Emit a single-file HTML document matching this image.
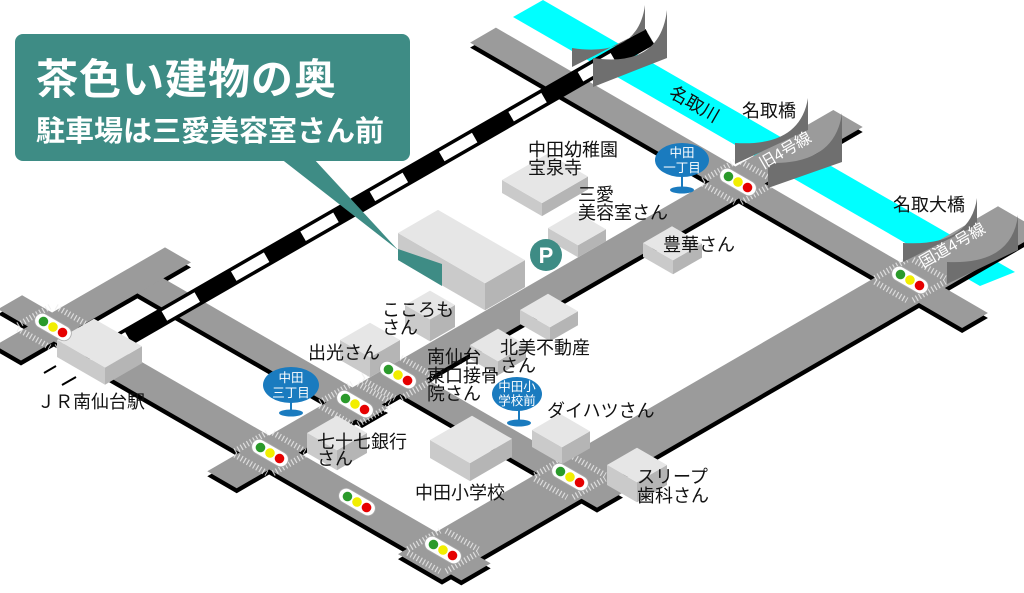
<!DOCTYPE html>
<html><head><meta charset="utf-8">
<style>
html,body{margin:0;padding:0;background:#fff;}
svg{display:block;}
.lb{font-family:"Liberation Sans","Noto Sans CJK JP",sans-serif;font-size:18px;fill:#111;}
.bs{font-family:"Liberation Sans","Noto Sans CJK JP",sans-serif;font-size:12.5px;fill:#fff;}
.dk{font-family:"Liberation Sans","Noto Sans CJK JP",sans-serif;font-size:16px;fill:#fff;}
</style></head>
<body>
<svg id="map" width="1024" height="593" viewBox="0 0 1024 593" xmlns="http://www.w3.org/2000/svg">
<polygon points="513,17 543,0 1015,272 980,286" fill="#00ffff"/>
<g id="shadows"></g>
<g id="roads"></g>
<g id="cross"></g>
<g id="rail"></g>
<g id="walls"></g>
<g id="boxes"></g>
<g id="lights"></g>
<!-- callout -->
<polygon points="280,158 313,158 398,250" fill="#3e8c85"/>
<rect x="15" y="34" width="395" height="127" rx="8" fill="#3e8c85"/>
<text x="36" y="94" font-family="'Liberation Sans','Noto Sans CJK JP',sans-serif" font-size="42" font-weight="bold" fill="#fff" letter-spacing="1">茶色い建物の奥</text>
<text x="36" y="141" font-family="'Liberation Sans','Noto Sans CJK JP',sans-serif" font-size="29" font-weight="bold" fill="#fff">駐車場は三愛美容室さん前</text>
<!-- P -->
<circle cx="546" cy="255" r="16" fill="#3e8c85"/>
<text x="546" y="263" text-anchor="middle" font-family="'Liberation Sans',sans-serif" font-size="22" font-weight="bold" fill="#fff">P</text>
<!-- bus stops -->
<g>
<line x1="682" y1="175" x2="682" y2="190" stroke="#1a7bbf" stroke-width="2"/>
<ellipse cx="682" cy="190" rx="12" ry="3.5" fill="#1a7bbf"/>
<ellipse cx="682" cy="160" rx="27" ry="17" fill="#1a7bbf"/>
<text class="bs" x="682" y="157" text-anchor="middle">中田</text>
<text class="bs" x="682" y="172" text-anchor="middle">一丁目</text>
<line x1="291" y1="400" x2="291" y2="413" stroke="#1a7bbf" stroke-width="2"/>
<ellipse cx="291" cy="413" rx="12" ry="3.5" fill="#1a7bbf"/>
<ellipse cx="291" cy="385" rx="28" ry="18" fill="#1a7bbf"/>
<text class="bs" x="291" y="382" text-anchor="middle">中田</text>
<text class="bs" x="291" y="397" text-anchor="middle">三丁目</text>
<line x1="519" y1="408" x2="519" y2="423" stroke="#1a7bbf" stroke-width="2"/>
<ellipse cx="519" cy="423" rx="12" ry="3.5" fill="#1a7bbf"/>
<ellipse cx="517" cy="394" rx="25" ry="17" fill="#1a7bbf"/>
<text class="bs" x="517" y="391" text-anchor="middle">中田小</text>
<text class="bs" x="517" y="405" text-anchor="middle">学校前</text>
</g>
<!-- labels -->
<g class="lb">
<text class="lb" x="528" y="156">中田幼稚園</text>
<text class="lb" x="528" y="174">宝泉寺</text>
<text class="lb" x="578" y="201">三愛</text>
<text class="lb" x="578" y="219">美容室さん</text>
<text class="lb" x="663" y="251">豊華さん</text>
<text class="lb" x="742" y="117">名取橋</text>
<text class="lb" x="893" y="211">名取大橋</text>
<text class="lb" x="0" y="0" transform="translate(668,96) rotate(30)">名取川</text>
<text class="lb" x="37" y="408">ＪＲ南仙台駅</text>
<text class="lb" x="382" y="316">こころも</text>
<text class="lb" x="382" y="334">さん</text>
<text class="lb" x="308" y="359">出光さん</text>
<text class="lb" x="427" y="363">南仙台</text>
<text class="lb" x="427" y="382">東口接骨</text>
<text class="lb" x="427" y="400">院さん</text>
<text class="lb" x="500" y="354">北美不動産</text>
<text class="lb" x="500" y="372">さん</text>
<text class="lb" x="547" y="417">ダイハツさん</text>
<text class="lb" x="317" y="448">七十七銀行</text>
<text class="lb" x="317" y="465">さん</text>
<text class="lb" x="415" y="499">中田小学校</text>
<text class="lb" x="637" y="483">スリープ</text>
<text class="lb" x="637" y="502">歯科さん</text>
</g>
<text class="dk" x="0" y="0" text-anchor="middle" transform="translate(788,155) rotate(-30)">旧4号線</text>
<text class="dk" x="0" y="0" text-anchor="middle" transform="translate(955,250) rotate(-30)">国道4号線</text>
</svg>
<script>
var NS="http://www.w3.org/2000/svg";
function el(t,a,p){var e=document.createElementNS(NS,t);for(var k in a)e.setAttribute(k,a[k]);document.getElementById(p).appendChild(e);return e;}
function pts(a){return a.map(function(p){return p[0].toFixed(1)+","+p[1].toFixed(1)}).join(" ");}
function roadPts(xs,xe,x0,y0,s,w,dy){
  var h=w/2;function c(x){return [x,y0+s*(x-x0)+dy];}
  var P1=c(xs),P2=c(xe);
  function top(P){return [P[0]+h/(2*s),P[1]-h/2];}
  function bot(P){return [P[0]-h/(2*s),P[1]+h/2];}
  return [top(P1),top(P2),bot(P2),bot(P1)];
}
var roads=[
 [483,975,500,45,0.58,30],      // A
 [420,1020,600,462.5,-0.58,51], // B
 [222,848,738,182,-0.577,34],   // C
 [385,610,570,477,0.577,30],    // D
 [140,375,355,404,0.577,30],    // E
 [100,476,270,453,0.577,34],    // F
 [8,178,53,327,-0.577,30],      // G
 [10,95,53,327,0.577,28]        // stub
];
roads.forEach(function(r){el("polygon",{points:pts(roadPts(r[0],r[1],r[2],r[3],r[4],r[5],5)),fill:"#000"},"shadows");});
roads.forEach(function(r){el("polygon",{points:pts(roadPts(r[0],r[1],r[2],r[3],r[4],r[5],0)),fill:"#9b9b9b"},"roads");});
// crosswalks
var T=[[738,182],[910,280],[398,378],[355,404],[270,453],[443,551],[570,477],[53,327]];
T.forEach(function(t){
  var off=22,len=16;
  [[1,0.577],[1,-0.577]].forEach(function(d,i){
    var o=i==0?[1,-0.577]:[1,0.577];
    [-1,1].forEach(function(sg){
      var cx=t[0]+sg*o[0]*off*0.87,cy=t[1]+sg*o[1]*off*0.87;
      el("line",{x1:cx-d[0]*len,y1:cy-d[1]*len,x2:cx+d[0]*len,y2:cy+d[1]*len,stroke:"#eee","stroke-width":6,"stroke-dasharray":"1.2 2.4",opacity:0.8},"cross");
    });
  });
});
// rail
function ry(x){return 307-0.575*(x-180);}
el("line",{x1:95,y1:ry(95),x2:650,y2:ry(650),stroke:"#000","stroke-width":18},"rail");
el("line",{x1:95,y1:ry(95),x2:650,y2:ry(650),stroke:"#fff","stroke-width":11,"stroke-dasharray":"38 42"},"rail");
el("line",{x1:44,y1:373,x2:56,y2:366,stroke:"#000","stroke-width":2},"rail");
el("line",{x1:62,y1:385,x2:76,y2:377,stroke:"#000","stroke-width":2},"rail");
// bridge walls
function wall(x1,y1,yb1,x2,y2,yb2,cx,cy){
  el("path",{d:"M"+x1+","+y1+" Q"+cx+","+cy+" "+x2+","+y2+" L"+x2+","+yb2+" L"+x1+","+yb1+" Z",fill:"#6f6f6f"},"walls");
}
wall(572,48,67,645,5,30,638,58);
wall(593,58,87,667,10,58,660,68);
wall(735,143,164,808,98,130,800,147);
wall(768,163,188,842,113,162,835,165);
wall(903,243,262,977,198,225,970,247);
wall(947,262,284,1018,215,250,1012,265);
// boxes
function box(lx,ly,L,R,H){
  var Lt=[lx,ly],Ft=[lx+L,ly+0.577*L],Rt=[lx+L+R,ly+0.577*L-0.577*R],Bt=[lx+R,ly-0.577*R];
  function dn(p){return [p[0],p[1]+H];}
  el("polygon",{points:pts([Lt,Ft,dn(Ft),dn(Lt)]),fill:"#cacaca"},"boxes");
  el("polygon",{points:pts([Ft,Rt,dn(Rt),dn(Ft)]),fill:"#b5b5b5"},"boxes");
  el("polygon",{points:pts([Lt,Ft,Rt,Bt]),fill:"#e6e6e6"},"boxes");
}
box(398,233,87,40,27);
el("polygon",{points:"398,249 442,264 442,286 398,260",fill:"#3e8c85"},"boxes");
box(502,180,40,46,13);
box(548,228,30,28,12);
box(643,243,30,29,14);
box(405,305,25,25,22);
box(520,310,30,28,14);
box(340,340,30,30,20);
box(470,345,28,28,14);
box(307,433,30,30,20);
box(430,440,40,42,18);
box(532,430,30,28,17);
box(607,465,30,30,20);
box(57,340,48,37,17);
// traffic lights
var L=[[738,182],[910,280],[53,327],[355,404],[398,375],[270,453],[357,502],[443,550],[570,477]];
L.forEach(function(t){
  var g=el("g",{transform:"translate("+t[0]+","+t[1]+") rotate(30)"},"lights");
  var r=document.createElementNS(NS,"rect");
  [["x",-20],["y",-7.5],["width",40],["height",15],["rx",7.5],["fill","#fff"],["stroke","#aaa"],["stroke-width","0.8"]].forEach(function(a){r.setAttribute(a[0],a[1]);});
  g.appendChild(r);
  [["#2a9a2a",-11],["#f2ee00",0],["#e60000",11]].forEach(function(c){
    var ci=document.createElementNS(NS,"circle");ci.setAttribute("cx",c[1]);ci.setAttribute("cy",0);ci.setAttribute("r",4.8);ci.setAttribute("fill",c[0]);g.appendChild(ci);
  });
});
</script>
</body></html>
